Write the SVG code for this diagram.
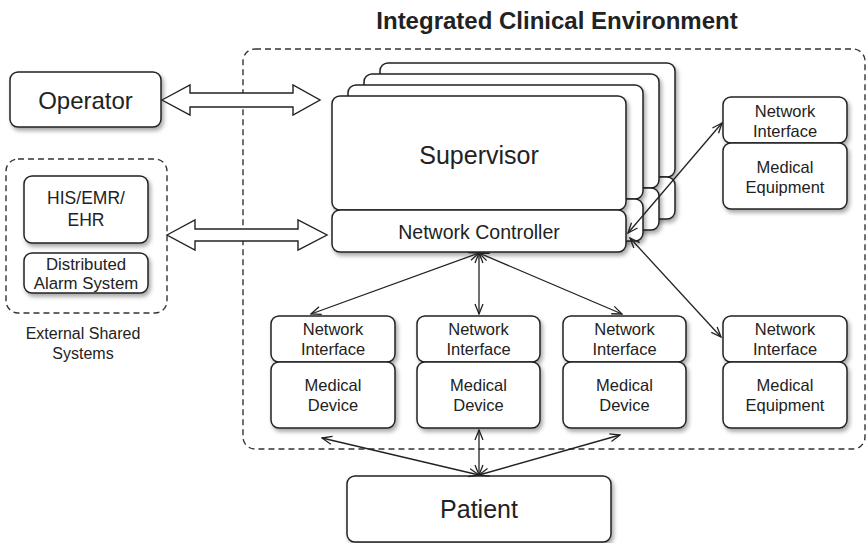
<svg xmlns="http://www.w3.org/2000/svg" width="868" height="543" viewBox="0 0 868 543">
<defs>
<filter id="sh" x="-10%" y="-10%" width="130%" height="140%">
<feDropShadow dx="2" dy="3" stdDeviation="2" flood-color="#000" flood-opacity="0.35"/>
</filter>
<marker id="ah" viewBox="0 0 12 10" refX="11" refY="5" markerWidth="12" markerHeight="10" markerUnits="userSpaceOnUse" orient="auto-start-reverse">
<path d="M1,1 L11,5 L1,9" fill="none" stroke="#222" stroke-width="1.3"/>
</marker>
</defs>
<style>
.bx{fill:#fff;stroke:#222;stroke-width:1.5}
.dash{fill:none;stroke:#333;stroke-width:1.4;stroke-dasharray:6 4}
.t{font-family:"Liberation Sans",Arial,sans-serif;fill:#222;text-anchor:middle;dominant-baseline:central}
.s16{font-size:16.5px}
.con{fill:none;stroke:#222;stroke-width:1.3;marker-start:url(#ah);marker-end:url(#ah)}
.hol{fill:#fff;stroke:#222;stroke-width:1.4;stroke-linejoin:miter}
</style>
<rect width="868" height="543" fill="#fff"/>
<text class="t" x="557" y="20" font-size="24" font-weight="bold">Integrated Clinical Environment</text>
<rect id="ice-boundary" class="dash" x="243" y="49" width="622" height="400" rx="12"/>

<g id="operator">
<rect class="bx" x="10" y="72" width="151" height="55" rx="8" filter="url(#sh)"/>
<text class="t" x="85.5" y="100" font-size="24">Operator</text>
</g>

<g id="external-shared-systems">
<rect class="dash" x="6" y="159" width="161" height="154" rx="12"/>
<text class="t" x="83" y="333" font-size="16">External Shared</text>
<text class="t" x="83" y="353" font-size="16">Systems</text>
</g>
<g id="his-emr-ehr">
<rect class="bx" x="24" y="176" width="124" height="67" rx="8" filter="url(#sh)"/>
<text class="t" x="86" y="198" font-size="17.5">HIS/EMR/</text>
<text class="t" x="86" y="220" font-size="17.5">EHR</text>
</g>
<g id="distributed-alarm">
<rect class="bx" x="24" y="253" width="124" height="40" rx="8" filter="url(#sh)"/>
<text class="t" x="86" y="264" font-size="16.8">Distributed</text>
<text class="t" x="86" y="283" font-size="16.8">Alarm System</text>
</g>

<g id="supervisor-stack">
<g filter="url(#sh)">
<rect class="bx" x="380" y="63" width="295" height="114" rx="8"/>
<rect class="bx" x="380" y="177" width="295" height="42" rx="8"/>
</g>
<g filter="url(#sh)">
<rect class="bx" x="364" y="74" width="295" height="114" rx="8"/>
<rect class="bx" x="364" y="188" width="295" height="42" rx="8"/>
</g>
<g filter="url(#sh)">
<rect class="bx" x="348" y="85" width="295" height="114" rx="8"/>
<rect class="bx" x="348" y="199" width="295" height="42" rx="8"/>
</g>
</g>
<g id="supervisor">
<g filter="url(#sh)">
<rect class="bx" x="332" y="96" width="294" height="114" rx="8"/>
<rect class="bx" x="332" y="210" width="294" height="42" rx="8"/>
</g>
<text class="t" x="479" y="155" font-size="25">Supervisor</text>
<text class="t" x="479" y="232" font-size="19.5">Network Controller</text>
</g>

<g id="equipment-top">
<g filter="url(#sh)">
<rect class="bx" x="723" y="97" width="124" height="46" rx="8"/>
<rect class="bx" x="723" y="143" width="124" height="66" rx="8"/>
</g>
<text class="t s16" x="785" y="111">Network</text>
<text class="t s16" x="785" y="131">Interface</text>
<text class="t s16" x="785" y="167">Medical</text>
<text class="t s16" x="785" y="187">Equipment</text>
</g>

<g id="device-1">
<g filter="url(#sh)">
<rect class="bx" x="271" y="316" width="124" height="46" rx="8"/>
<rect class="bx" x="271" y="362" width="124" height="66" rx="8"/>
</g>
<text class="t s16" x="333" y="329">Network</text>
<text class="t s16" x="333" y="349">Interface</text>
<text class="t s16" x="333" y="385">Medical</text>
<text class="t s16" x="333" y="405">Device</text>
</g>
<g id="device-2">
<g filter="url(#sh)">
<rect class="bx" x="417" y="316" width="123" height="46" rx="8"/>
<rect class="bx" x="417" y="362" width="123" height="66" rx="8"/>
</g>
<text class="t s16" x="478.5" y="329">Network</text>
<text class="t s16" x="478.5" y="349">Interface</text>
<text class="t s16" x="478.5" y="385">Medical</text>
<text class="t s16" x="478.5" y="405">Device</text>
</g>
<g id="device-3">
<g filter="url(#sh)">
<rect class="bx" x="563" y="316" width="123" height="46" rx="8"/>
<rect class="bx" x="563" y="362" width="123" height="66" rx="8"/>
</g>
<text class="t s16" x="624.5" y="329">Network</text>
<text class="t s16" x="624.5" y="349">Interface</text>
<text class="t s16" x="624.5" y="385">Medical</text>
<text class="t s16" x="624.5" y="405">Device</text>
</g>
<g id="equipment-bottom">
<g filter="url(#sh)">
<rect class="bx" x="723" y="316" width="124" height="46" rx="8"/>
<rect class="bx" x="723" y="362" width="124" height="66" rx="8"/>
</g>
<text class="t s16" x="785" y="329">Network</text>
<text class="t s16" x="785" y="349">Interface</text>
<text class="t s16" x="785" y="385">Medical</text>
<text class="t s16" x="785" y="405">Equipment</text>
</g>

<g id="patient">
<rect class="bx" x="347" y="476" width="264" height="66" rx="8" filter="url(#sh)"/>
<text class="t" x="479" y="509" font-size="25">Patient</text>
</g>

<g id="connectors">
<polygon class="hol" points="162,100 190,85 190,93 293,93 293,85 320,100 293,115 293,107 190,107 190,115"/>
<polygon class="hol" points="167,235 195,220 195,229 298,229 298,220 327,235 298,250 298,241 195,241 195,250"/>
<line class="con" x1="479" y1="253" x2="311" y2="314"/>
<line class="con" x1="479" y1="253" x2="479" y2="314"/>
<line class="con" x1="479" y1="253" x2="622" y2="314"/>
<line class="con" x1="628" y1="233" x2="722" y2="123"/>
<line class="con" x1="630" y1="238" x2="721" y2="337"/>
<line class="con" x1="479" y1="475" x2="322" y2="438"/>
<line class="con" x1="479" y1="475" x2="479" y2="430"/>
<line class="con" x1="479" y1="475" x2="620" y2="435"/>
</g>
</svg>
